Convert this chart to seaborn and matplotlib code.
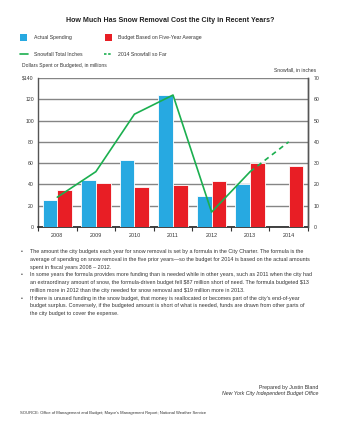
import matplotlib
matplotlib.use("Agg")
import matplotlib.pyplot as plt
import seaborn as sns
import pandas as pd
import numpy as np
from matplotlib.patches import Rectangle
from matplotlib.lines import Line2D

years = ["2008", "2009", "2010", "2011", "2012", "2013", "2014"]
actual_spending = [25, 44, 63, 124, 29, 40, np.nan]
budget_five_year = [35, 41, 38, 39, 43, 60, 57]
snowfall_total = [14, 26, 53, 62, 7, 26]          # 2008-2013
snowfall_2014_so_far = [26, 40]                    # 2013 -> 2014
left_ticks = [0, 20, 40, 60, 80, 100, 120, 140]
left_labels = ["0", "20", "40", "60", "80", "100", "120", "\\$140"]
right_ticks = [0, 10, 20, 30, 40, 50, 60, 70]

BLUE = "#27A9E1"
RED = "#E81E25"
GREEN = "#1BAF4F"
GRID = "#858585"

sns.set_theme(style="white")
plt.rcParams['font.family'] = ['Liberation Sans', 'DejaVu Sans']

W, H = 338, 437
fig = plt.figure(figsize=(W / 100, H / 100), dpi=100)

def fx(px):
    return px / W

def fy(py):
    return 1 - py / H

ax_l, ax_r, ax_t, ax_b = 38, 308, 78, 227
ax = fig.add_axes([fx(ax_l), fy(ax_b), fx(ax_r - ax_l), (ax_b - ax_t) / H])

df = pd.DataFrame({
    "year": years * 2,
    "value": actual_spending + budget_five_year,
    "series": ["Actual Spending"] * 7 + ["Budget Based on Five-Year Average"] * 7,
})
sns.barplot(data=df, x="year", y="value", hue="series",
            palette=[BLUE, RED], saturation=1, width=0.76, ax=ax, legend=False,
            edgecolor="white", linewidth=0.6, zorder=3, order=years)

ax.set_xlim(-0.5, 6.5)
ax.set_ylim(0, 140)
ax.set_yticks(left_ticks)
ax.set_yticklabels(left_labels)
ax.yaxis.grid(True, color=GRID, linewidth=1.0, zorder=0)
ax.set_axisbelow(True)
ax.set_xlabel("")
ax.set_ylabel("")
ax.tick_params(axis="y", length=0, labelsize=3.7, pad=3, labelcolor="#333333")
ax.tick_params(axis="x", which="major", length=0, labelsize=3.9, pad=4, labelcolor="#333333")
ax.set_xticks(range(7))
ax.set_xticklabels(years)
ax.set_xticks(np.arange(-0.5, 7, 1.0), minor=True)
ax.tick_params(axis="x", which="minor", bottom=True, length=3, width=0.8, color="#333333", direction="out")
for s in ["left", "right"]:
    ax.spines[s].set_color("#555555")
    ax.spines[s].set_linewidth(1.0)
ax.spines["top"].set_visible(False)
ax.spines["bottom"].set_color("#222222")
ax.spines["bottom"].set_linewidth(1.2)

ax2 = ax.twinx()
ax2.set_ylim(0, 70)
ax2.set_xlim(-0.5, 6.5)
line_df = pd.DataFrame({"x": list(range(6)), "snow": snowfall_total})
sns.lineplot(data=line_df, x="x", y="snow", color=GREEN, linewidth=1.2, ax=ax2, zorder=5)
dash_df = pd.DataFrame({"x": [5, 6], "snow": snowfall_2014_so_far})
sns.lineplot(data=dash_df, x="x", y="snow", color=GREEN, linewidth=1.2, ax=ax2,
             linestyle=(0, (3, 2.5)), zorder=5)
ax2.set_yticks(right_ticks)
ax2.tick_params(axis="y", length=0, labelsize=3.7, pad=4, labelcolor="#333333")
ax2.set_xlabel("")
ax2.set_ylabel("")
for s in ["top", "left", "bottom"]:
    ax2.spines[s].set_visible(False)
ax2.spines["right"].set_color("#555555")
ax2.spines["right"].set_linewidth(1.0)
ax2.grid(False)

# Title
fig.text(fx(170), fy(20), "How Much Has Snow Removal Cost the City in Recent Years?",
         ha="center", va="center", fontsize=5.1, fontweight="bold", color="#222222")

# Legend (manual)
fig.patches.append(Rectangle((fx(20), fy(41)), 7 / W, 7 / H, transform=fig.transFigure,
                             facecolor=BLUE, edgecolor="none"))
fig.patches.append(Rectangle((fx(105), fy(41)), 7 / W, 7 / H, transform=fig.transFigure,
                             facecolor=RED, edgecolor="none"))
fig.text(fx(34), fy(37.5), "Actual Spending", fontsize=3.7, va="center", color="#333333")
fig.text(fx(118), fy(37.5), "Budget Based on Five-Year Average", fontsize=3.7, va="center", color="#333333")
fig.lines.append(Line2D([fx(20), fx(28)], [fy(54), fy(54)], transform=fig.transFigure,
                        color=GREEN, linewidth=1.2))
fig.lines.append(Line2D([fx(104), fx(112)], [fy(54), fy(54)], transform=fig.transFigure,
                        color=GREEN, linewidth=1.2, linestyle=(0, (1.5, 1))))
fig.text(fx(34), fy(54), "Snowfall Total Inches", fontsize=3.7, va="center", color="#333333")
fig.text(fx(118), fy(54), "2014 Snowfall so Far", fontsize=3.7, va="center", color="#333333")

fig.text(fx(22), fy(66), "Dollars Spent or Budgeted, in millions", fontsize=3.6, va="center", color="#333333")
fig.text(fx(316), fy(70), "Snowfall, in inches", fontsize=3.6, va="center", ha="right", color="#333333")

# Bullets
bullets = [
    ["The amount the city budgets each year for snow removal is set by a formula in the City Charter. The formula is the",
     "average of spending on snow removal in the five prior years\u2014so the budget for 2014 is based on the actual amounts",
     "spent in fiscal years 2008 \u2013 2012."],
    ["In some years the formula provides more funding than is needed while in other years, such as 2011 when the city had",
     "an extraordinary amount of snow, the formula-driven budget fell \\$87 million short of need. The formula budgeted \\$13",
     "million more in 2012 than the city needed for snow removal and \\$19 million more in 2013."],
    ["If there is unused funding in the snow budget, that money is reallocated or becomes part of the city\u2019s end-of-year",
     "budget surplus. Conversely, if the budgeted amount is short of what is needed, funds are drawn from other parts of",
     "the city budget to cover the expense."],
]
y = 251.7
for b in bullets:
    fig.text(fx(21), fy(y), "\u2022", fontsize=3.8, va="center", color="#333333")
    for line in b:
        fig.text(fx(30), fy(y), line, fontsize=3.9, va="center", color="#333333")
        y += 7.75

fig.text(fx(318), fy(387.5), "Prepared by Justin Bland", fontsize=3.8, ha="right", va="center", color="#333333")
fig.text(fx(318), fy(393.5), "New York City Independent Budget Office", fontsize=3.8, ha="right",
         va="center", style="italic", color="#333333")
fig.text(fx(20), fy(413), "SOURCE: Office of Management and Budget; Mayor\u2019s Management Report; National Weather Service",
         fontsize=3.0, va="center", color="#333333")

fig.savefig("out.png", dpi=100)
